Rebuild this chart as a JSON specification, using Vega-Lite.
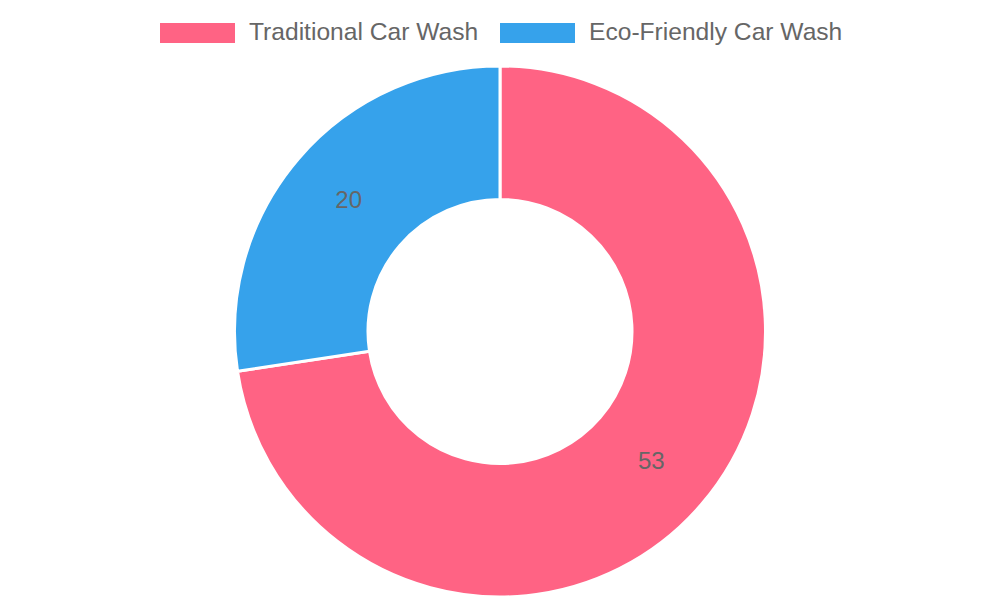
{
  "$schema": "https://vega.github.io/schema/vega-lite/v6.json",
  "width": 1000,
  "height": 537,
  "padding": {"top": 63, "left": 0, "right": 0, "bottom": 0},
  "autosize": {"type": "none"},
  "background": "white",
  "data": {
    "values": [
      {"type": "Traditional Car Wash", "value": 53, "rank": 1},
      {"type": "Eco-Friendly Car Wash", "value": 20, "rank": 2}
    ]
  },
  "encoding": {
    "theta": {"field": "value", "type": "quantitative", "stack": true},
    "order": {"field": "rank", "type": "quantitative"},
    "color": {
      "field": "type",
      "type": "nominal",
      "scale": {
        "domain": ["Traditional Car Wash", "Eco-Friendly Car Wash"],
        "range": ["#ff6384", "#36a2eb"]
      },
      "legend": {
        "title": null,
        "orient": "none",
        "direction": "horizontal",
        "legendX": 160,
        "legendY": -68,
        "symbolType": "M-1,-0.2667L1,-0.2667L1,0.2667L-1,0.2667Z",
        "symbolSize": 5625,
        "symbolStrokeWidth": 0,
        "symbolOpacity": 1,
        "labelOffset": 14,
        "columnPadding": 21,
        "labelFont": "Liberation Sans",
        "labelFontSize": 24.6,
        "labelColor": "#666666",
        "labelLimit": 400
      }
    }
  },
  "layer": [
    {
      "mark": {
        "type": "arc",
        "outerRadius": 265.5,
        "innerRadius": 132,
        "stroke": "white",
        "strokeWidth": 3
      }
    },
    {
      "mark": {
        "type": "text",
        "radius": 199.5,
        "font": "Liberation Sans",
        "fontSize": 24,
        "color": "#666666"
      },
      "encoding": {
        "text": {"field": "value", "type": "quantitative"},
        "color": {"value": "#666666"}
      }
    }
  ]
}
